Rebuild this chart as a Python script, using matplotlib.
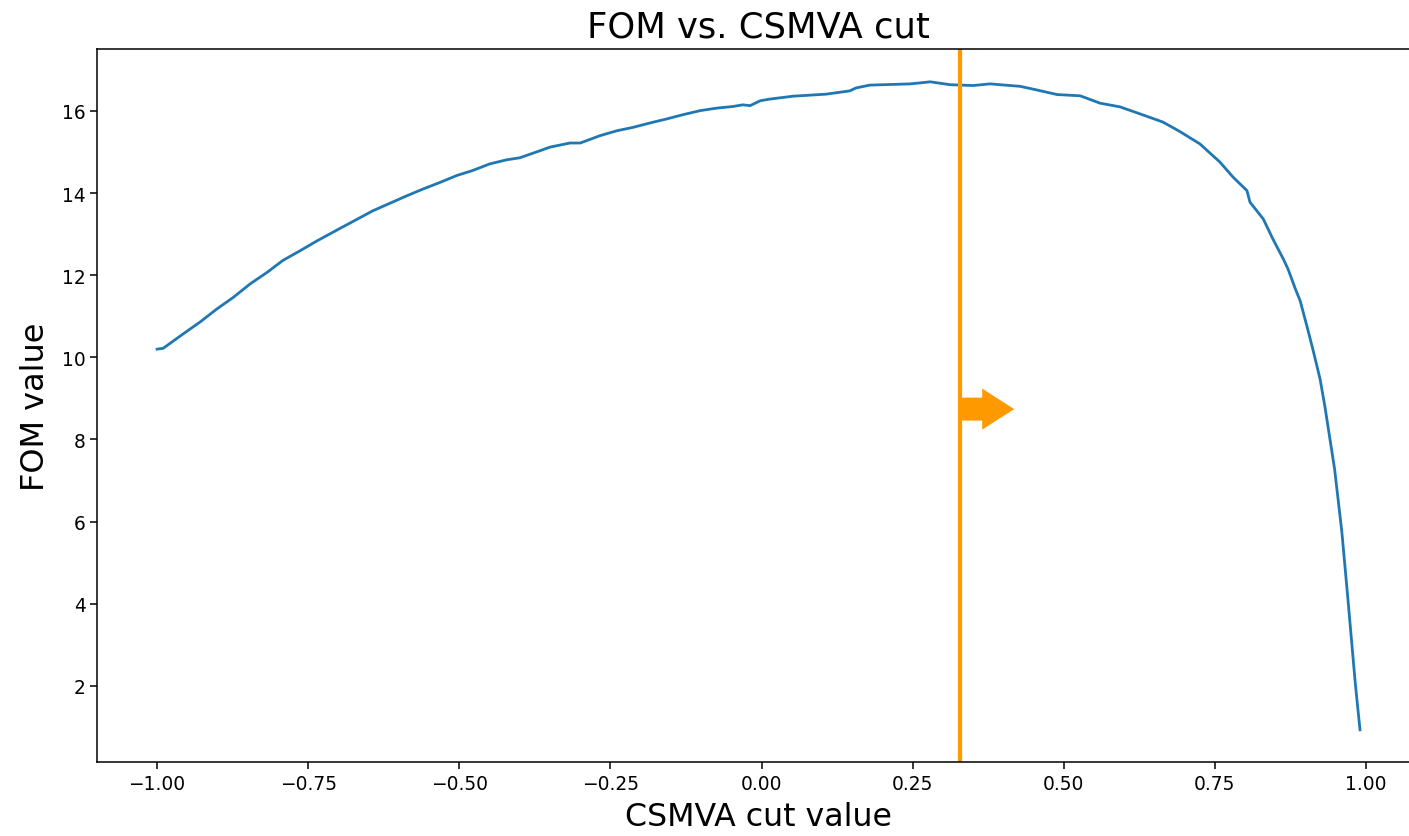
import numpy as np
import matplotlib
matplotlib.use("Agg")
import matplotlib.pyplot as plt

# FOM curve
cut_values = [-1.00, -0.99, -0.957, -0.929, -0.901, -0.874, -0.846, -0.818, -0.792,
              -0.763, -0.735, -0.70, -0.643, -0.586, -0.56, -0.532, -0.504, -0.478,
              -0.45, -0.422, -0.40, -0.367, -0.35, -0.317, -0.30, -0.267, -0.239,
              -0.213, -0.184, -0.156, -0.13, -0.101, -0.074, -0.047, -0.031, -0.019,
              -0.002, 0.014, 0.052, 0.107, 0.146, 0.156, 0.179, 0.246, 0.279, 0.312,
              0.35, 0.378, 0.428, 0.456, 0.489, 0.527, 0.56, 0.593, 0.626, 0.664,
              0.692, 0.725, 0.758, 0.78, 0.803, 0.808, 0.83, 0.846, 0.863, 0.871,
              0.883, 0.891, 0.902, 0.912, 0.924, 0.932, 0.948, 0.96, 0.97, 0.982, 0.99]
fom_values = [10.20, 10.22, 10.57, 10.86, 11.18, 11.46, 11.79, 12.07, 12.36,
              12.60, 12.84, 13.12, 13.57, 13.94, 14.10, 14.26, 14.43, 14.55,
              14.71, 14.81, 14.86, 15.03, 15.12, 15.22, 15.22, 15.40, 15.52,
              15.60, 15.71, 15.81, 15.91, 16.01, 16.07, 16.11, 16.15, 16.13,
              16.25, 16.29, 16.36, 16.41, 16.49, 16.56, 16.63, 16.66, 16.71, 16.64,
              16.62, 16.66, 16.60, 16.51, 16.40, 16.37, 16.19, 16.10, 15.93, 15.73,
              15.50, 15.20, 14.76, 14.39, 14.06, 13.78, 13.37, 12.88, 12.40, 12.15,
              11.67, 11.38, 10.77, 10.20, 9.47, 8.80, 7.28, 5.75, 4.12, 2.10, 0.93]

best_cut = 0.328
arrow_y = 8.74

ORANGE = "#ff9900"

fig = plt.figure(figsize=(14.09, 8.37), dpi=100)
ax = fig.add_axes([0.0688, 0.0881, 0.9391, 0.8517])

ax.plot(cut_values, fom_values, color="#1f77b4", lw=2.0)
ax.axvline(best_cut, color=ORANGE, lw=3)
ax.arrow(best_cut, arrow_y, 0.09, 0, width=0.56, head_width=1.0, head_length=0.053,
         length_includes_head=True, color=ORANGE, lw=0)

ax.set_xlim(-1.0995, 1.0895)
ax.set_ylim(0.14, 17.5)
ax.set_xticks([-1.0, -0.75, -0.5, -0.25, 0.0, 0.25, 0.5, 0.75, 1.0])
ax.set_yticks([2, 4, 6, 8, 10, 12, 14, 16])
ax.tick_params(labelsize=13.4, length=4.7, width=1.1)
for s in ax.spines.values():
    s.set_linewidth(1.1)

ax.set_title("FOM vs. CSMVA cut", fontsize=25.5, pad=9)
ax.set_xlabel("CSMVA cut value", fontsize=22.8, labelpad=6)
ax.set_ylabel("FOM value", fontsize=23, labelpad=8)

fig.savefig("out.png", dpi=100)
